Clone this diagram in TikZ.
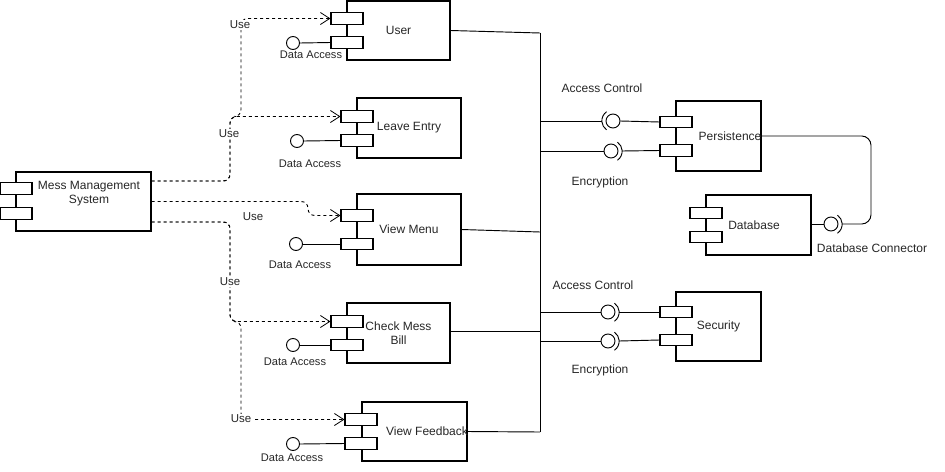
\documentclass[tikz,border=0pt]{standalone}
\usepackage{fontspec}
\setmainfont{Liberation Sans}
\usetikzlibrary{arrows.meta,calc}
\begin{document}
\begin{tikzpicture}[x=0.75pt,y=-0.75pt,
  every node/.style={font=\fontsize{9pt}{10.5pt}\selectfont, text=black!85},
  comp/.style 2 args={draw, rectangle, inner sep=0pt, minimum width=#1*0.75pt, minimum height=#2*0.75pt, line width=0.8pt, align=center},
  port/.style={draw, fill=white, rectangle, inner sep=0pt, minimum width=32*0.75pt, minimum height=11.5*0.75pt, line width=0.8pt},
  lolli/.style={draw, circle, inner sep=0pt, minimum size=13*0.75pt, line width=0.7pt},
  ball/.style={draw, circle, inner sep=0pt, minimum size=14*0.75pt, line width=0.7pt},
  sock/.style={circle, inner sep=0pt, minimum size=22*0.75pt},
  small/.style={font=\fontsize{8.3pt}{10pt}\selectfont},
  uselbl/.style={font=\fontsize{8.6pt}{10pt}\selectfont, fill=white, inner sep=1pt},
  usedge/.style={dash pattern=on 2.25pt off 2.25pt, line width=0.7pt, rounded corners=5pt, -{Straight Barb[length=7pt,width=9pt,line width=0.6pt]}},
  conn/.style={line width=0.7pt},
  arcl/.style={line width=0.7pt}
]
\useasboundingbox (0,0) rectangle (945,471);

% Mess Management System
\node[comp={135}{59}] (mms) at (83.5,201.5) {};
\node[align=center] (mmst) at (89,194) {Mess Management\\System};
\node[port] (mp1) at (16,188.5) {};
\node[port] (mp2) at (16,213.5) {};

% User
\node[comp={103}{59}] (user) at (398.5,30.5) {User};
\node[port] (up1) at (347,18.5) {};
\node[port] (up2) at (347,42.5) {};
\node[lolli] (ul) at (293,43) {};
\node[small] (ula) at (311,55) {Data Access};
\draw[conn] (ul.east) -- (up2.west);

% Leave Entry
\node[comp={104}{60}] (leave) at (409,128) {Leave Entry};
\node[port] (lp1) at (357,116.5) {};
\node[port] (lp2) at (357,140.5) {};
\node[lolli] (ll) at (297,141) {};
\node[small] (lla) at (310,164) {Data Access};
\draw[conn] (ll.east) -- (lp2.west);

% View Menu
\node[comp={104}{71}] (vm) at (409,229.5) {View Menu};
\node[port] (vp1) at (357,215.5) {};
\node[port] (vp2) at (357,244) {};
\node[lolli] (vl) at (296,244) {};
\node[small] (vla) at (300,265) {Data Access};
\draw[conn] (vl.east) -- (vp2.west);

% Check Mess Bill
\node[comp={103}{60}] (cm) at (398.5,333) {Check Mess\\Bill};
\node[port] (cp1) at (347,321.5) {};
\node[port] (cp2) at (347,345) {};
\node[lolli] (cl) at (293,345) {};
\node[small] (cla) at (295,362) {Data Access};
\draw[conn] (cl.east) -- (cp2.west);

% View Feedback
\node[comp={105}{59}] (vf) at (414.5,431.5) {};
\node (vft) at (427,431) {View Feedback};
\node[port] (fp1) at (361,419.5) {};
\node[port] (fp2) at (361,443.5) {};
\node[lolli] (fl) at (293,444) {};
\node[small] (fla) at (292,458) {Data Access};
\draw[conn] (fl.east) -- (fp2.west);

% Use edges
\coordinate (j1) at (230,116.5);
\coordinate (j2) at (241,116.5);
\coordinate (j3) at (308,201.5);
\coordinate (j4) at (230,321.5);
\coordinate (j5) at (241,321.5);
\draw[usedge] ($(mms.east)+(0,-20.5)$) -| (j1) -- (j2) |- (up1.west);
\draw[usedge] ($(mms.east)+(0,-20.5)$) -| (j1) -- (lp1.west);
\draw[usedge] (mms.east) -- (j3) |- (vp1.west);
\draw[usedge] ($(mms.east)+(0,20.5)$) -| (j4) -- (cp1.west);
\draw[usedge] ($(mms.east)+(0,20.5)$) -| (j4) -- (j5) |- (fp1.west);
\node[uselbl] (u1) at (240,25) {Use};
\node[uselbl] (u2) at (229,134) {Use};
\node[uselbl] (u3) at (253,217) {Use};
\node[uselbl] (u4) at (230,282) {Use};
\node[uselbl] (u5) at (241,419) {Use};

% Bus
\coordinate (bt) at (540,33);
\coordinate (bb) at (540,432);
\coordinate (bvm) at (540,232);
\coordinate (bcm) at (540,331);
\draw[conn] (bt) -- (bb);
\draw[conn] (user.east) -- (bt);
\draw[conn] (vm.east) -- (bvm);
\draw[conn] ($(cm.east)+(0,-2)$) -- (bcm);
\draw[conn] (vf.east) -- (bb);

% Persistence
\node[comp={85}{70}] (pers) at (718.5,136) {};
\node (perst) at (730,136) {Persistence};
\node[port] (pp1) at (676,122) {};
\node[port] (pp2) at (676,150.5) {};

\coordinate (b1) at (540,121);
\node[ball] (k1) at (613,121) {};
\node[sock] (s1) at (613,121) {};
\draw[conn] (b1) -- (s1.west);
\draw[arcl] (s1.125) arc[start angle=125, end angle=235, radius=8.25pt];
\draw[conn] (k1.east) -- (pp1.west);

\coordinate (b2) at (540,151);
\node[ball] (k2) at (611,151) {};
\node[sock] (s2) at (611,151) {};
\draw[conn] (b2) -- (k2.west);
\draw[arcl] (s2.-55) arc[start angle=-55, end angle=55, radius=8.25pt];
\draw[conn] (s2.east) -- (pp2.west);

\node (ac1) at (602,88) {Access Control};
\node (en1) at (600,182) {Encryption};

% Database
\node[comp={105}{60}] (db) at (758.5,225) {};
\node (dbt) at (754,225) {Database};
\node[port] (dp1) at (706,213) {};
\node[port] (dp2) at (706,237) {};
\node[ball] (k5) at (831,224) {};
\node[sock] (s5) at (831,224) {};
\draw[conn] ($(db.east)+(0,-1)$) -- (k5.west);
\draw[arcl] (s5.-55) arc[start angle=-55, end angle=55, radius=8.25pt];
\coordinate (dc) at (871,224);
\draw[conn, rounded corners=7pt] (pers.east) -| (dc) -- (s5.east);
\node (dcl) at (872,248) {Database Connector};

% Security
\node[comp={85}{69}] (sec) at (718.5,326.5) {Security};
\node[port] (sp1) at (676,312) {};
\node[port] (sp2) at (676,340) {};

\coordinate (b3) at (540,312);
\node[ball] (k3) at (608,312) {};
\node[sock] (s3) at (608,312) {};
\draw[conn] (b3) -- (k3.west);
\draw[arcl] (s3.-55) arc[start angle=-55, end angle=55, radius=8.25pt];
\draw[conn] (s3.east) -- (sp1.west);

\coordinate (b4) at (540,341);
\node[ball] (k4) at (608,341) {};
\node[sock] (s4) at (608,341) {};
\draw[conn] (b4) -- (k4.west);
\draw[arcl] (s4.-55) arc[start angle=-55, end angle=55, radius=8.25pt];
\draw[conn] (s4.east) -- (sp2.west);

\node (ac2) at (593,285) {Access Control};
\node (en2) at (600,370) {Encryption};
\end{tikzpicture}
\end{document}
